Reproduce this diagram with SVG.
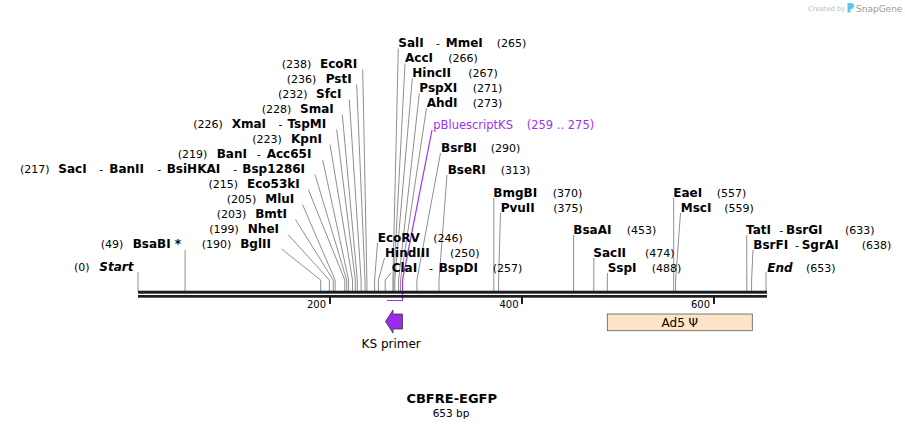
<svg xmlns="http://www.w3.org/2000/svg" width="905" height="430" viewBox="0 0 905 430">
<style>
text{font-family:"DejaVu Sans",Verdana,sans-serif;fill:#000}
.n{font-size:11px}
.b{font-size:12px;font-weight:bold}
.bi{font-size:12px;font-weight:bold;font-style:italic}
.p{font-size:11.5px;fill:#a030f5}
.ln{fill:none;stroke:#8f8f8f;stroke-width:1}
.tk{font-size:10px}
</style>
<rect width="905" height="430" fill="#fff"/>
<g id="credit">
<text x="808" y="10.5" style="font-size:6.8px;fill:#bdbdbd">Created by</text>
<path d="M847.5,3 h3.5 a3,3 0 0 1 0,6 h-0.5 v3.5 h-3 z" fill="#5cc3f2"/>
<text x="856" y="12" style="font-size:9px;fill:#9a9a9a">SnapGene</text>
</g>
<g id="connectors">
<polyline class="ln" points="138,272 138,291"/>
<polyline class="ln" points="185.1,250 185.1,291"/>
<polyline class="ln" points="281.7,249 320.7,280 320.7,291"/>
<polyline class="ln" points="288,234.5 329.4,280 329.4,291"/>
<polyline class="ln" points="295.5,219.5 333.2,280 333.2,291"/>
<polyline class="ln" points="302.5,204.5 335.1,280 335.1,291"/>
<polyline class="ln" points="308.3,189.5 344.8,280 344.8,291"/>
<polyline class="ln" points="315,174.5 346.7,280 346.7,291"/>
<polyline class="ln" points="322.7,160 348.6,280 348.6,291"/>
<polyline class="ln" points="330,144.5 352.5,280 352.5,291"/>
<polyline class="ln" points="336.7,129.5 355.3,280 355.3,291"/>
<polyline class="ln" points="342.3,114.5 357.3,280 357.3,291"/>
<polyline class="ln" points="349.3,99.5 361.1,280 361.1,291"/>
<polyline class="ln" points="356.7,84.5 365,280 365,291"/>
<polyline class="ln" points="362.7,69.5 366.9,280 366.9,291"/>
<polyline class="ln" points="377.5,243 374.6,280 374.6,291"/>
<polyline class="ln" points="384.5,258 378.4,280 378.4,291"/>
<polyline class="ln" points="391,273 385.2,280 385.2,291"/>
<polyline class="ln" points="398.3,48.5 392.9,280 392.9,291"/>
<polyline class="ln" points="405,63.5 393.8,280 393.8,291"/>
<polyline class="ln" points="412.3,78.5 394.8,280 394.8,291"/>
<polyline class="ln" points="419.3,93.5 398.6,280 398.6,291"/>
<polyline class="ln" points="426.5,108 400.5,280 400.5,291"/>
<polyline class="ln" points="440.5,153 416.9,280 416.9,291"/>
<polyline class="ln" points="447,175 439,280 439,291"/>
<polyline class="ln" points="493.8,198 493.8,291"/>
<polyline class="ln" points="500.5,213 498.6,280 498.6,291"/>
<polyline class="ln" points="573.6,235 573.6,291"/>
<polyline class="ln" points="593.8,258 593.8,291"/>
<polyline class="ln" points="607.5,273 607.3,280 607.3,291"/>
<polyline class="ln" points="673.7,198 673.7,291"/>
<polyline class="ln" points="680.5,213 675.6,280 675.6,291"/>
<polyline class="ln" points="746.8,235 746.8,291"/>
<polyline class="ln" points="753,250 751.6,280 751.6,291"/>
<polyline class="ln" points="766,272 766,291"/>
<polyline fill="none" stroke="#a030f5" stroke-width="1.2" points="432,130 402.5,280 402.5,300.5 387,300.5"/>
</g>
<g id="backbone">
<rect x="138" y="290.7" width="629" height="3" fill="#1e1e1e"/>
<rect x="138" y="295" width="629" height="2.7" fill="#1e1e1e"/>
<rect x="329" y="297" width="2" height="7" fill="#1e1e1e"/>
<rect x="521" y="297" width="2" height="7" fill="#1e1e1e"/>
<rect x="713" y="297" width="2" height="7" fill="#1e1e1e"/>
<text class="tk" x="326" y="308" text-anchor="end">200</text>
<text class="tk" x="518.5" y="308" text-anchor="end">400</text>
<text class="tk" x="710" y="308" text-anchor="end">600</text>
</g>
<g id="start"><text class="n" x="74" y="271">(0)</text><text class="bi" x="99.3" y="271">Start</text></g>
<g id="BsaBI"><text class="n" x="100.7" y="248">(49)</text><text class="b" x="132.7" y="248">BsaBI *</text></g>
<g id="BglII"><text class="n" x="201.7" y="248">(190)</text><text class="b" x="240.2" y="248">BglII</text></g>
<g id="NheI"><text class="n" x="209.3" y="233">(199)</text><text class="b" x="247.8" y="233">NheI</text></g>
<g id="BmtI"><text class="n" x="216.7" y="218">(203)</text><text class="b" x="255.2" y="218">BmtI</text></g>
<g id="MluI"><text class="n" x="226.7" y="203">(205)</text><text class="b" x="265.2" y="203">MluI</text></g>
<g id="Eco53kI"><text class="n" x="208.5" y="188">(215)</text><text class="b" x="247" y="188">Eco53kI</text></g>
<g id="SacI"><text class="n" x="20" y="173">(217)</text><text class="b" x="58.3" y="173">SacI</text><text class="n" x="99.3" y="173">-</text><text class="b" x="109.3" y="173">BanII</text><text class="n" x="157.3" y="173">-</text><text class="b" x="166.7" y="173">BsiHKAI</text><text class="n" x="233.3" y="173">-</text><text class="b" x="242.3" y="173">Bsp1286I</text></g>
<g id="BanI"><text class="n" x="177.7" y="158">(219)</text><text class="b" x="216.7" y="158">BanI</text><text class="n" x="256.7" y="158">-</text><text class="b" x="266.7" y="158">Acc65I</text></g>
<g id="KpnI"><text class="n" x="252.3" y="143">(223)</text><text class="b" x="291" y="143">KpnI</text></g>
<g id="XmaI"><text class="n" x="193.3" y="128">(226)</text><text class="b" x="231.7" y="128">XmaI</text><text class="n" x="278.5" y="128">-</text><text class="b" x="287.5" y="128">TspMI</text></g>
<g id="SmaI"><text class="n" x="261.7" y="113">(228)</text><text class="b" x="300" y="113">SmaI</text></g>
<g id="SfcI"><text class="n" x="278" y="98">(232)</text><text class="b" x="316" y="98">SfcI</text></g>
<g id="PstI"><text class="n" x="286.7" y="83">(236)</text><text class="b" x="325.7" y="83">PstI</text></g>
<g id="EcoRI"><text class="n" x="281.7" y="68">(238)</text><text class="b" x="320" y="68">EcoRI</text></g>
<g id="SalI"><text class="b" x="398.3" y="46.5">SalI</text><text class="n" x="436" y="46.5">-</text><text class="b" x="445.7" y="46.5">MmeI</text><text class="n" x="496.7" y="46.5">(265)</text></g>
<g id="AccI"><text class="b" x="405" y="61.5">AccI</text><text class="n" x="448.3" y="61.5">(266)</text></g>
<g id="HincII"><text class="b" x="412.3" y="76.5">HincII</text><text class="n" x="468.3" y="76.5">(267)</text></g>
<g id="PspXI"><text class="b" x="419.3" y="91.5">PspXI</text><text class="n" x="472.7" y="91.5">(271)</text></g>
<g id="AhdI"><text class="b" x="426.7" y="106.5">AhdI</text><text class="n" x="472.7" y="106.5">(273)</text></g>
<g id="pBluescriptKS"><text class="p" x="433.3" y="128.5">pBluescriptKS</text><text class="p" x="526.7" y="128.5">(259 .. 275)</text></g>
<g id="BsrBI"><text class="b" x="441" y="151.5">BsrBI</text><text class="n" x="490.7" y="151.5">(290)</text></g>
<g id="BseRI"><text class="b" x="447.7" y="173.5">BseRI</text><text class="n" x="500.7" y="173.5">(313)</text></g>
<g id="BmgBI"><text class="b" x="493.3" y="196.5">BmgBI</text><text class="n" x="552.7" y="196.5">(370)</text></g>
<g id="PvuII"><text class="b" x="500.7" y="211.5">PvuII</text><text class="n" x="553.3" y="211.5">(375)</text></g>
<g id="BsaAI"><text class="b" x="573.3" y="233.5">BsaAI</text><text class="n" x="626.7" y="233.5">(453)</text></g>
<g id="SacII"><text class="b" x="593.3" y="256.5">SacII</text><text class="n" x="645" y="256.5">(474)</text></g>
<g id="SspI"><text class="b" x="607.7" y="271.5">SspI</text><text class="n" x="651.7" y="271.5">(488)</text></g>
<g id="EaeI"><text class="b" x="673.3" y="196.5">EaeI</text><text class="n" x="716.7" y="196.5">(557)</text></g>
<g id="MscI"><text class="b" x="680.7" y="211.5">MscI</text><text class="n" x="724.3" y="211.5">(559)</text></g>
<g id="TatI"><text class="b" x="746" y="233.5">TatI</text><text class="n" x="779.3" y="233.5">-</text><text class="b" x="786" y="233.5">BsrGI</text><text class="n" x="845" y="233.5">(633)</text></g>
<g id="BsrFI"><text class="b" x="753.3" y="248.5">BsrFI</text><text class="n" x="795" y="248.5">-</text><text class="b" x="801.7" y="248.5">SgrAI</text><text class="n" x="861.7" y="248.5">(638)</text></g>
<g id="end"><text class="bi" x="767.3" y="271.5">End</text><text class="n" x="806" y="271.5">(653)</text></g>
<g id="EcoRV"><text class="b" x="377.7" y="241.5">EcoRV</text><text class="n" x="433.3" y="241.5">(246)</text></g>
<g id="HindIII"><text class="b" x="385" y="256.5">HindIII</text><text class="n" x="450" y="256.5">(250)</text></g>
<g id="ClaI"><text class="b" x="391.7" y="271.5">ClaI</text><text class="n" x="429" y="271.5">-</text><text class="b" x="438.7" y="271.5">BspDI</text><text class="n" x="492.7" y="271.5">(257)</text></g>
<g id="KSprimer">
<polygon points="402.5,314 393,314 393,310 385.5,321.5 393,333 393,329 402.5,329" fill="#9b2be8" stroke="#3a3a3a" stroke-width="0.8"/>
<text x="391.2" y="347.5" text-anchor="middle" style="font-size:12px">KS primer</text>
</g>
<g id="Ad5psi">
<rect x="607.3" y="314" width="145" height="16.7" fill="#fde4c6" stroke="#5a5a5a" stroke-width="0.8"/>
<text x="679.8" y="326.5" text-anchor="middle" style="font-size:12px">Ad5 Ψ</text>
</g>
<g id="title">
<text x="451.7" y="403.3" text-anchor="middle" style="font-size:13px;font-weight:bold">CBFRE-EGFP</text>
<text x="451" y="416.5" text-anchor="middle" style="font-size:10.5px">653 bp</text>
</g>
</svg>
